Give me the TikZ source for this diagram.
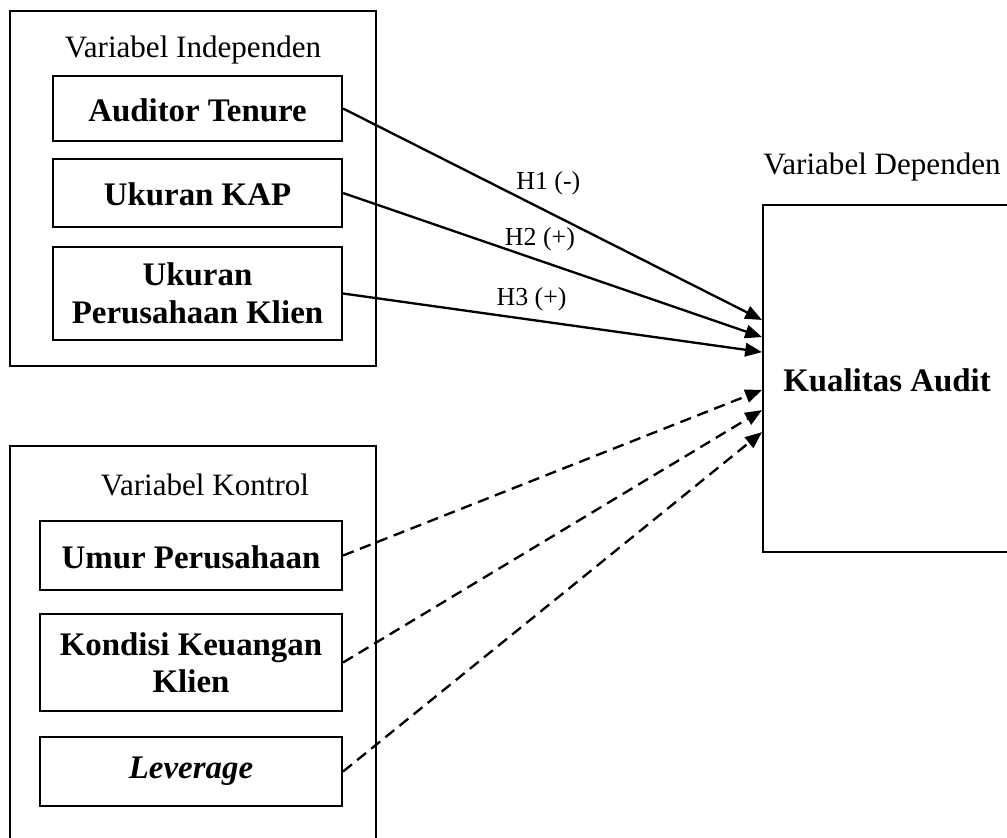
\documentclass[tikz,border=0pt]{standalone}
\usepackage{fontspec}
\setmainfont{Liberation Serif}
\usetikzlibrary{arrows.meta}

\begin{document}
\begin{tikzpicture}[
  x=0.386pt, y=-0.386pt,
  group/.style={draw, line width=0.6pt},
  title/.style={font=\fontsize{12}{14}\selectfont},
  varbox/.style={rectangle, draw, line width=0.8pt, align=center, minimum width=111.6pt, font=\bfseries\fontsize{12.7}{14.5}\selectfont},
  oneline/.style={text height=10pt, text depth=0pt},
  ctrlbox/.style={varbox, minimum width=116.6pt},
  effect/.style={-{Triangle[length=6.5pt,width=5.2pt]}, line width=0.9pt},
  controllink/.style={effect, dash pattern=on 4.4pt off 2.6pt},
  hypo/.style={font=\fontsize{10}{12}\selectfont}
]
  \useasboundingbox (0,0) rectangle (1007,837);

  % group frames
  \draw[group] (10,11) rectangle (376,366);
  \draw[group] (10,446) rectangle (376,880);
  \node[title] (indeptitle) at (193,50) {Variabel Independen};
  \node[title] (ctrltitle) at (205,485) {Variabel Kontrol};
  \node[title] (deptitle) at (882,167) {Variabel Dependen};

  % independent variables
  \node[varbox, oneline, minimum height=25.1pt] (tenure) at (197.5,108.5) {Auditor Tenure};
  \node[varbox, oneline, minimum height=26.2pt] (kap) at (197.5,193) {Ukuran KAP};
  \node[varbox, minimum height=35.9pt] (klien) at (197.5,293.5) {Ukuran\\Perusahaan Klien};

  % control variables
  \node[ctrlbox, oneline, minimum height=26.6pt] (umur) at (191,555.5) {Umur Perusahaan};
  \node[ctrlbox, minimum height=37.4pt] (kondisi) at (191,662.5) {Kondisi Keuangan\\Klien};
  \node[ctrlbox, minimum height=26.6pt] (leverage) at (191,771.5) {\textit{Leverage}};

  % dependent variable
  \node[varbox, oneline, minimum width=95.7pt, minimum height=134pt] (kualitas) at (887,378.5) {Kualitas Audit};

  \draw[effect] (tenure.east) -- node[hypo, above=3pt, pos=0.49] {H1 (-)} ([yshift=22.6pt]kualitas.west);
  \draw[effect] (kap.east) -- node[hypo, above, pos=0.47] {H2 (+)} ([yshift=16pt]kualitas.west);
  \draw[effect] (klien.east) -- node[hypo, above=-0.5pt, pos=0.45] {H3 (+)} ([yshift=10.2pt]kualitas.west);

  \draw[controllink] (umur.east) -- ([yshift=-4.4pt]kualitas.west);
  \draw[controllink] (kondisi.east) -- ([yshift=-12.2pt]kualitas.west);
  \draw[controllink] (leverage.east) -- ([yshift=-20.7pt]kualitas.west);
\end{tikzpicture}
\end{document}
